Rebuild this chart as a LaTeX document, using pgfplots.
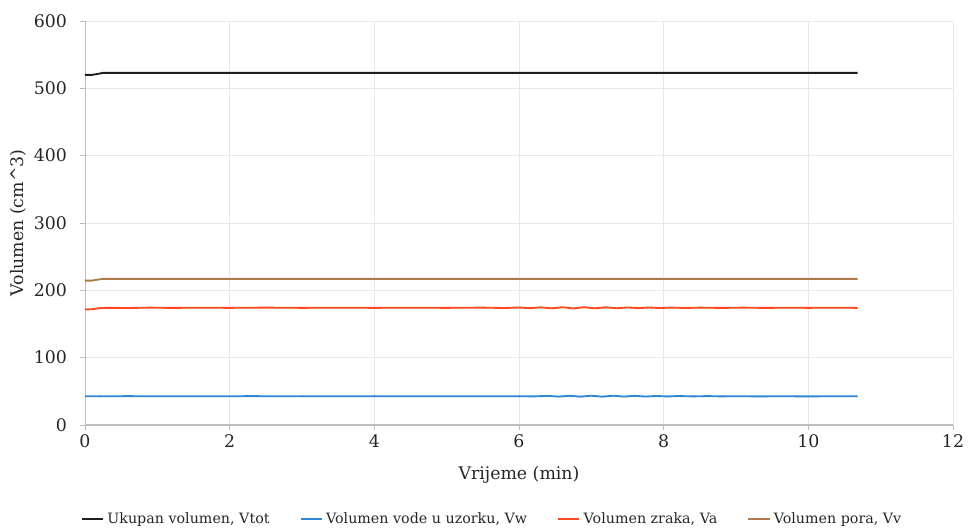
\documentclass[border=0pt]{standalone}
\usepackage{pgfplots}
\pgfplotsset{compat=1.18}
\usepackage{fontspec}
\setmainfont{DejaVu Serif}
\definecolor{cblack}{RGB}{30,30,30}
\definecolor{cblue}{RGB}{46,134,212}
\definecolor{cred}{RGB}{255,72,30}
\definecolor{cbrown}{RGB}{172,122,76}
\definecolor{cgrid}{RGB}{232,232,232}
\definecolor{caxis}{RGB}{190,190,190}
\begin{document}
\begin{tikzpicture}
\useasboundingbox (-63.75pt,-79.5pt) rectangle (663.75pt,318.75pt);
\begin{axis}[
  scale only axis,
  width=651pt, height=303pt,
  xmin=0, xmax=12, ymin=0, ymax=600,
  xtick={0,2,...,12}, ytick={0,100,...,600},
  grid=major,
  major grid style={cgrid, line width=0.6pt},
  axis x line*=bottom, axis y line*=left,
  x axis line style={caxis, line width=1pt, -},
  y axis line style={caxis, line width=0.7pt, -},
  tick style={caxis, line width=0.7pt},
  tick align=outside, major tick length=4pt,
  ticklabel style={font=\fontsize{13}{15}\selectfont, text=black!85},
  yticklabel style={xshift=-6pt},
  /pgf/number format/assume math mode=true,
  xlabel={Vrijeme (min)}, ylabel={Volumen (cm\^{}3)},
  label style={font=\fontsize{13}{15}\selectfont, text=black!85},
  xlabel style={yshift=-7pt},
  ylabel style={yshift=-1pt},
  legend style={at={(0.469,-0.232)}, anchor=center, draw=none, fill=none,
    font=\fontsize{10.7}{12}\selectfont, text=black!85,
    column sep=1pt,
    nodes={inner sep=1.5pt},
    /tikz/every even column/.append style={column sep=21pt}},
  legend columns=4,
  legend image code/.code={\draw[#1] (0pt,0pt) -- (16pt,0pt);},
  every axis plot/.append style={line width=1.4pt, line join=round},
]
\addplot[cblack] coordinates {(0,520) (0.1,520) (0.18,521.5) (0.25,523) (0.5,523) (1,523) (2,523) (4,523) (6,523) (8,523) (10,523) (10.68,523)};
\addlegendentry{Ukupan volumen, Vtot}
\addplot[cblue] coordinates {(0,42.6) (0.2,42.8) (0.4,42.6) (0.6,42.9) (0.8,42.6) (1.0,42.8) (1.2,42.6) (1.5,42.7) (2,42.6) (2.3,42.9) (2.6,42.6) (3,42.8) (3.5,42.6) (4,42.8) (4.5,42.6) (5,42.7) (5.5,42.6) (6,42.8) (6.2,42.5) (6.4,43.2) (6.55,42.2) (6.7,43.4) (6.85,42.1) (7.0,43.5) (7.15,42.1) (7.3,43.5) (7.45,42.2) (7.6,43.3) (7.75,42.3) (7.9,43.1) (8.05,42.4) (8.2,43.0) (8.4,42.5) (8.6,42.9) (8.8,42.5) (9,42.8) (9.3,42.5) (9.6,42.7) (10,42.5) (10.3,42.7) (10.68,42.6)};
\addlegendentry{Volumen vode u uzorku, Vw}
\addplot[cred] coordinates {(0,171.5) (0.1,172) (0.2,173.5) (0.3,174) (0.6,173.8) (0.9,174.3) (1.2,173.9) (1.5,174.2) (2,174) (2.5,174.3) (3,174) (3.5,174.2) (4,174) (4.5,174.2) (5,174) (5.5,174.3) (5.8,173.8) (6.0,174.5) (6.15,173.5) (6.3,174.8) (6.45,173.3) (6.6,174.9) (6.75,173.2) (6.9,174.9) (7.05,173.3) (7.2,174.8) (7.35,173.4) (7.5,174.6) (7.65,173.6) (7.8,174.5) (7.95,173.7) (8.1,174.4) (8.3,173.8) (8.5,174.3) (8.8,173.9) (9.1,174.3) (9.4,173.9) (9.7,174.2) (10,174) (10.3,174.2) (10.68,174)};
\addlegendentry{Volumen zraka, Va}
\addplot[cbrown] coordinates {(0,214.5) (0.1,214.5) (0.18,216) (0.25,217) (0.5,217) (1,217) (2,217) (4,217) (6,217) (8,217) (10,217) (10.68,217)};
\addlegendentry{Volumen pora, Vv}
\end{axis}
\end{tikzpicture}
\end{document}
